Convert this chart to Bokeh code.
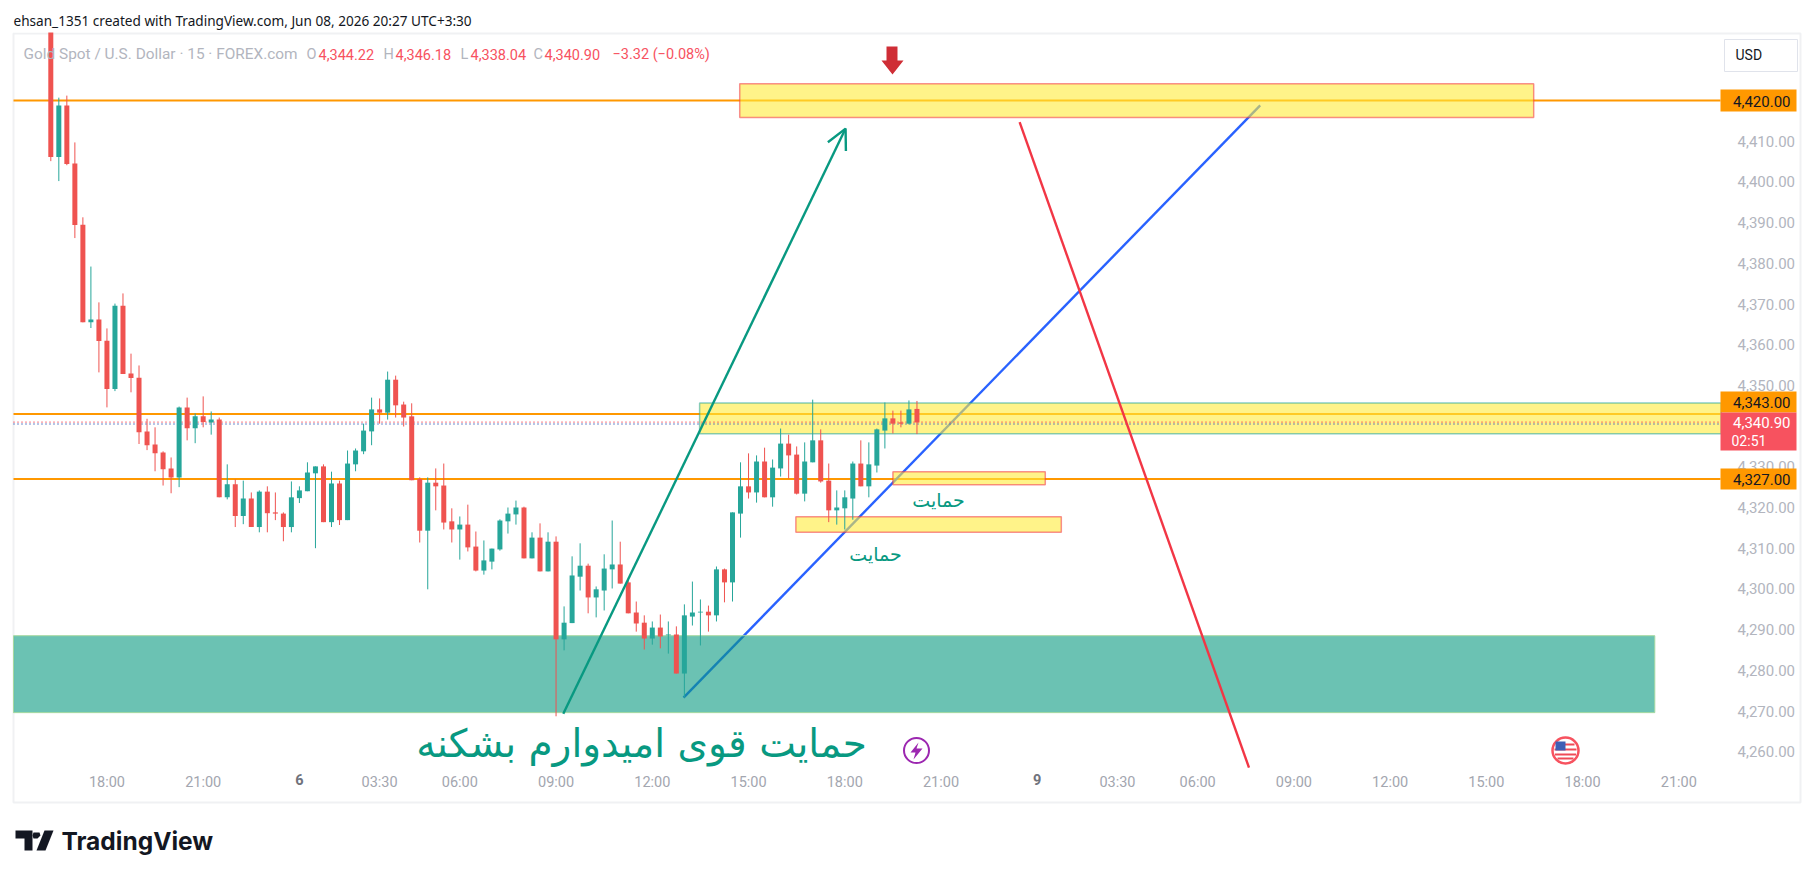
from bokeh.plotting import figure
from bokeh.models import (ColumnDataSource, Range1d, LinearAxis, FixedTicker, NumeralTickFormatter,
                          Label, Arrow, OpenHead)
from bokeh.embed import file_html
from bokeh.resources import INLINE

# ---------- data: 15 min XAUUSD bars ----------
opens = [4440.0,4406.1,4418.8,4404.5,4389.5,4365.5,4366.2,4361.0,4349.1,4369.6,4352.9,4351.9,4338.7,4335.5,4333.5,4329.6,
 4327.4,4344.6,4339.5,4342.4,4340.9,4341.6,4322.5,4325.7,4317.9,4322.2,4315.2,4323.9,4318.8,4318.5,4315.2,4322.3,
 4324.0,4328.4,4330.1,4316.4,4325.9,4316.9,4330.6,4333.8,4338.7,4344.1,4343.3,4351.4,4345.3,4342.4,4327.0,4314.3,
 4326.1,4325.4,4316.6,4314.6,4315.8,4310.4,4304.5,4306.7,4309.7,4316.6,4318.3,4320.0,4307.5,4312.6,4304.3,4311.6,
 4287.6,4291.6,4303.0,4305.7,4297.9,4299.6,4304.8,4306.0,4301.6,4294.2,4291.7,4287.8,4290.5,4288.6,4288.8,4279.2,
 4293.2,4294.2,4294.4,4293.5,4304.8,4301.6,4318.5,4325.2,4323.7,4331.3,4322.5,4329.6,4335.7,4333.0,4323.4,4331.1,
 4336.5,4326.6,4319.3,4319.8,4322.2,4330.8,4325.2,4330.3,4338.9,4341.9,4340.9,4340.6,4344.22]
highs = [4442.0,4420.7,4421.2,4409.7,4391.3,4379.2,4370.4,4364.0,4370.1,4372.6,4357.8,4354.9,4341.8,4339.7,4333.8,4332.3,
 4344.8,4347.0,4343.1,4347.3,4343.6,4342.1,4330.6,4326.9,4326.6,4323.7,4324.2,4325.2,4323.7,4318.8,4326.4,4325.2,
 4331.1,4330.1,4330.6,4328.8,4326.6,4334.0,4334.5,4340.6,4347.0,4346.8,4353.4,4352.4,4346.0,4345.6,4327.4,4327.4,
 4329.6,4330.8,4319.8,4317.8,4320.7,4314.1,4311.9,4309.9,4317.1,4320.0,4321.7,4320.2,4313.9,4316.1,4313.9,4312.9,
 4295.7,4308.0,4311.2,4306.2,4300.6,4308.5,4316.8,4311.6,4302.6,4296.9,4293.5,4292.0,4293.7,4292.0,4290.8,4296.2,
 4301.8,4297.4,4295.9,4305.5,4305.0,4318.8,4331.1,4333.3,4332.8,4334.7,4331.8,4339.4,4337.9,4335.0,4336.0,4346.5,
 4339.2,4330.8,4324.2,4324.2,4331.3,4336.5,4336.0,4339.4,4345.8,4343.8,4343.8,4346.3,4346.18]
lows = [4405.1,4400.2,4404.1,4386.2,4365.5,4364.1,4353.2,4344.6,4348.6,4352.8,4348.3,4335.6,4334.1,4328.9,4325.4,4323.5,
 4325.0,4336.5,4335.8,4339.7,4337.9,4322.5,4322.0,4315.2,4315.9,4315.2,4313.9,4313.9,4316.9,4311.7,4313.9,4321.1,
 4324.0,4310.0,4316.4,4315.2,4315.7,4316.9,4328.9,4333.1,4335.3,4340.6,4341.6,4342.1,4339.9,4326.7,4311.4,4299.9,
 4319.3,4314.6,4311.4,4307.2,4309.2,4304.3,4303.5,4304.8,4309.4,4313.6,4315.8,4307.5,4307.5,4304.3,4304.3,4268.7,
 4284.9,4291.6,4299.6,4294.0,4293.0,4294.7,4300.1,4301.3,4294.0,4289.5,4285.1,4286.3,4285.4,4284.1,4279.2,4273.3,
 4291.0,4286.1,4289.5,4292.0,4296.7,4296.9,4312.6,4322.2,4321.2,4322.5,4320.2,4327.6,4327.1,4323.2,4321.5,4331.1,
 4326.1,4316.4,4315.8,4314.6,4317.0,4325.2,4322.5,4328.6,4334.5,4338.2,4339.7,4340.4,4338.04]
closes = [4406.1,4418.8,4404.4,4389.4,4365.5,4366.2,4360.9,4349.1,4369.6,4352.8,4351.8,4338.5,4335.3,4333.3,4329.4,4327.4,
 4344.6,4339.5,4342.4,4341.0,4341.6,4322.5,4325.7,4317.9,4322.2,4315.2,4323.9,4318.6,4318.5,4315.2,4322.5,4324.2,
 4328.6,4330.1,4316.4,4325.9,4316.9,4330.8,4334.0,4338.9,4344.1,4343.3,4351.4,4345.1,4342.1,4326.7,4314.3,4326.1,
 4325.2,4316.3,4314.6,4315.8,4310.2,4304.5,4307.0,4309.9,4316.8,4318.5,4320.0,4307.5,4312.6,4304.3,4311.6,4287.6,
 4291.7,4303.3,4305.7,4297.9,4299.9,4305.0,4306.0,4301.3,4294.0,4291.5,4287.8,4290.5,4288.3,4288.8,4279.2,4293.5,
 4294.2,4294.4,4293.5,4304.8,4301.6,4318.8,4325.2,4323.7,4331.3,4322.5,4329.8,4335.7,4332.8,4323.4,4331.3,4336.5,
 4326.4,4319.3,4320.0,4322.5,4330.8,4325.2,4330.6,4339.2,4341.9,4340.6,4340.6,4344.1,4340.90]

level_prices = [4420.0, 4343.0, 4327.0]
axis_prices = [4260,4270,4280,4290,4300,4310,4320,4330,4340,4350,4360,4370,4380,4390,4400,4410,4420]
time_bars = [7,19,41,51,63,75,87,99,111,133,143,155,167,179,191,203]
time_texts = ["18:00","21:00","03:30","06:00","09:00","12:00","15:00","18:00","21:00","03:30","06:00","09:00","12:00","15:00","18:00","21:00"]
day_bars = [31,123]
day_texts = ["6","9"]
# drawings: bar index and price
zone_l = [85.9, 80.9, 105.0, 92.9]
zone_r = [184.9, 208.3, 124.0, 126.0]
zone_t = [4424.1, 4345.7, 4328.8, 4317.7]
zone_b = [4415.8, 4338.1, 4325.6, 4313.9]
teal_zone = [-4.65, 200.0, 4288.5, 4269.6]
green_arrow = [63.9, 4269.3, 99.1, 4413.1]
blue_line = [78.9, 4273.3, 150.8, 4418.8]
red_line = [120.8, 4414.7, 149.4, 4256.1]
last_price = 4341.0
second_price = 4340.52

GREEN, RED = "#26a69a", "#ef5350"
UI = "Roboto"

# page pixel <-> data helpers (page pixel coordinates for overlays only)
PX0, PXD = 50.3, 8.02
PY0, PYD = 100.0, 4.07
def X(px): return (px - PX0) / PXD
def Y(py): return 4420 - (py - PY0) / PYD

p = figure(width=1814, height=877, output_backend="svg", toolbar_location=None,
           x_range=Range1d(X(0), X(1814)), y_range=Range1d(Y(877), Y(0)),
           x_axis_type=None, y_axis_type=None,
           min_border_left=0, min_border_right=0, min_border_top=0, min_border_bottom=0)
p.background_fill_color = "white"
p.border_fill_color = "white"
p.grid.visible = False
p.outline_line_color = None

# chart frame
p.quad(left=[X(13)], right=[X(1800)], top=[Y(33)], bottom=[Y(802)], fill_color=None,
       line_color="#f0f1f3", line_width=2)

# axes
ya = LinearAxis(fixed_location=X(1724), ticker=FixedTicker(ticks=axis_prices),
                formatter=NumeralTickFormatter(format="0,0.00"), level="underlay")
ya.axis_line_color = None; ya.major_tick_line_color = None; ya.minor_tick_line_color = None
ya.major_label_text_color = "#b2b5be"; ya.major_label_text_font = UI; ya.major_label_text_font_size = "15px"
ya.major_label_standoff = 7
p.add_layout(ya, "right")
for bars, texts, col, style in [(time_bars, time_texts, "#a3a6af", "normal"), (day_bars, day_texts, "#70737c", "bold")]:
    xa = LinearAxis(fixed_location=Y(764), ticker=FixedTicker(ticks=bars),
                    major_label_overrides=dict(zip(bars, texts)), level="underlay")
    xa.axis_line_color = None; xa.major_tick_line_color = None; xa.minor_tick_line_color = None
    xa.major_label_text_color = col; xa.major_label_text_font = UI; xa.major_label_text_font_size = "14.5px"
    xa.major_label_text_font_style = style; xa.major_label_standoff = 3
    p.add_layout(xa, "below")

# orange levels
for lv in level_prices:
    p.segment([X(13)], [lv], [X(1720)], [lv], line_color="#ff9800", line_width=2)

# blue trend line under zones
p.line([blue_line[0], blue_line[2]], [blue_line[1], blue_line[3]], line_color="#2962ff", line_width=2.4)

# zones
p.quad(left=[teal_zone[0]], right=[teal_zone[1]], top=[teal_zone[2]], bottom=[teal_zone[3]],
       fill_color="#089981", fill_alpha=0.6, line_color="#a5d8a0", line_width=1)
border = ["#f23645", "#26a69a", "#f23645", "#f23645"]
p.quad(left=zone_l, right=zone_r, top=zone_t, bottom=zone_b, fill_color="#ffeb3b", fill_alpha=0.6,
       line_color=border, line_alpha=0.55, line_width=1.5)

# last price lines
p.segment([X(13)], [last_price], [X(1720)], [last_price], line_color="#f23645", line_width=1.3, line_dash="1 3")
p.segment([X(13)], [second_price], [X(1720)], [second_price], line_color="#3f66bd", line_width=1.3, line_dash="1 3")

# candles
idx = list(range(len(opens)))
cols = [GREEN if c >= o else RED for o, c in zip(opens, closes)]
src = ColumnDataSource(dict(x=idx, o=opens, h=highs, l=lows, c=closes, col=cols,
                            top=[max(a, b) for a, b in zip(opens, closes)],
                            bot=[min(a, b) for a, b in zip(opens, closes)]))
p.segment("x", "h", "x", "l", source=src, line_color="col", line_width=1)
p.vbar(x="x", top="top", bottom="bot", width=5 / PXD, source=src, fill_color="col", line_color=None)
# the first bar opens above the chart pane: white strip hides it above the frame
p.quad(left=[X(13)], right=[X(100)], top=[Y(0)], bottom=[Y(32)], fill_color="white", line_color=None)

# other drawings
p.line([red_line[0], red_line[2]], [red_line[1], red_line[3]], line_color="#f23645", line_width=2.4)
p.add_layout(Arrow(end=OpenHead(size=20, line_color="#089981", line_width=2.4),
                   x_start=green_arrow[0], y_start=green_arrow[1], x_end=green_arrow[2], y_end=green_arrow[3],
                   line_color="#089981", line_width=2.4))

# red down marker
mx = [886, 897, 897, 903, 892, 881, 886]
my = [46, 46, 60, 60, 74, 60, 60]
p.patch([X(v) for v in mx], [Y(v) for v in my], fill_color="#cf2e36", line_color=None)

def lab(px, py, text, size=14, color="#131722", align="left", font=UI, style="normal"):
    p.add_layout(Label(x=X(px), y=Y(py), text=text, text_font_size=f"{size}px", text_color=color,
                       text_align=align, text_baseline="middle", text_font=font, text_font_style=style))

def box(x0, x1, y0, y1, fill, line=None):
    p.quad(left=[X(x0)], right=[X(x1)], top=[Y(y0)], bottom=[Y(y1)], fill_color=fill, line_color=line)

# price tags
box(1720, 1796, 89, 111, "#ff9800")
box(1720, 1796, 391, 412, "#ff9800")
box(1720, 1796, 468, 489, "#ff9800")
box(1720, 1796, 412, 450, "#f7525f")
lab(1790, 100.5, "4,420.00", 15, align="right")
lab(1790, 401.5, "4,343.00", 15, align="right")
lab(1790, 478.5, "4,327.00", 15, align="right")
lab(1790, 422, "4,340.90", 15, "white", align="right")
lab(1731, 440, "02:51", 14, "white")

# USD button
p.quad(left=[X(1724)], right=[X(1797)], top=[Y(39)], bottom=[Y(71)], fill_color="white", line_color="#e0e3eb", line_width=1)
lab(1735, 54.5, "USD", 14, "#131722")

# header / legend
lab(13, 20, "ehsan_1351 created with TradingView.com, Jun 08, 2026 20:27 UTC+3:30", 13.6, "#131722", font="Noto Sans")
GREY, VAL = "#b2b5be", "#f7525f"
lab(23, 53.5, "Gold Spot / U.S. Dollar · 15 · FOREX.com", 15.4, GREY)
for px, t in [(306, "O"), (383, "H"), (460, "L"), (533, "C")]:
    lab(px, 53.5, t, 14.5, GREY)
for px, t in [(318, "4,344.22"), (395, "4,346.18"), (470, "4,338.04"), (544, "4,340.90"), (612, "−3.32 (−0.08%)")]:
    lab(px, 53.5, t, 14.5, VAL)

# Persian notes
lab(641, 743, "حمایت قوی امیدوارم بشکنه", 39, "#089981", align="center", font="DejaVu Sans")
lab(938, 499, "حمایت", 19, "#089981", align="center", font="DejaVu Sans")
lab(875, 553, "حمایت", 19, "#089981", align="center", font="DejaVu Sans")

# lightning badge
p.scatter([X(916)], [Y(750)], size=25, marker="circle", fill_color="white", line_color="#9c27b0", line_width=2)
bx = [918, 910, 915, 913, 922, 916, 918]
by = [742, 752, 752, 759, 748, 748, 742]
p.patch([X(v) for v in bx], [Y(v) for v in by], fill_color="#9c27b0", line_color=None)

# flag badge
p.scatter([X(1565)], [Y(750)], size=26, marker="circle", fill_color="white", line_color="#f7525f", line_width=2.5)
for py, half in [(744, 9), (749, 11), (754, 10.5), (758, 8)]:
    p.segment([X(1565 - half)], [Y(py)], [X(1565 + half)], [Y(py)], line_color="#ef4a56", line_width=2)
p.quad(left=[X(1555)], right=[X(1565)], top=[Y(741)], bottom=[Y(750)], fill_color="#3f5fb5", line_color=None)

# TradingView logo
LOGO = "#131722"
for poly_x, poly_y in [([15, 32, 32, 24, 24, 15], [830, 830, 850, 850, 838, 838]),
                       ([44, 53, 45, 36], [830, 830, 850, 850]),
                       ([33, 39, 40, 37, 33, 32], [832, 832, 835, 838, 838, 835])]:
    p.patch([X(v) for v in poly_x], [Y(v) for v in poly_y], fill_color=LOGO, line_color=None)
lab(61, 840, "TradingView", 24.5, LOGO, font="Inter", style="bold")

open("out.html", "w").write(file_html(p, INLINE))
